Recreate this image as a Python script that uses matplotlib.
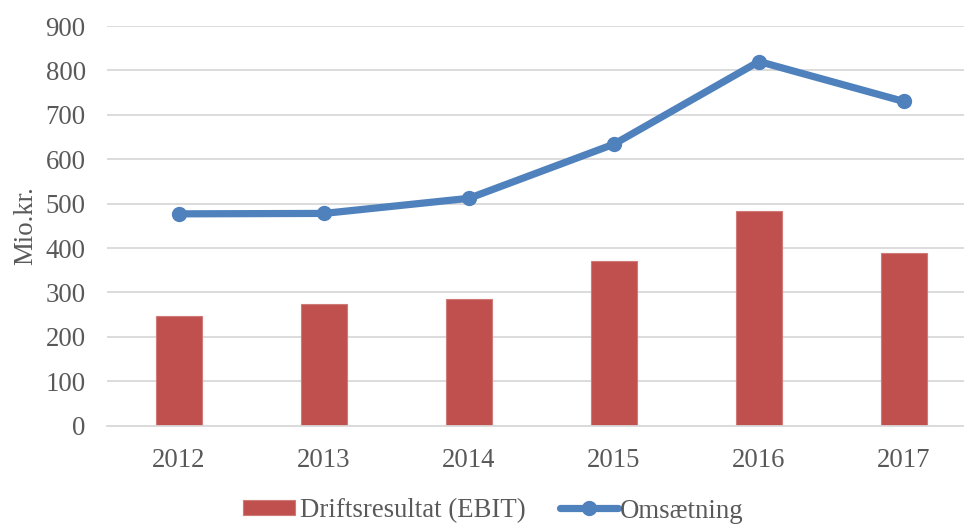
import matplotlib
matplotlib.use("Agg")
import matplotlib.pyplot as plt
import numpy as np

years = ["2012", "2013", "2014", "2015", "2016", "2017"]
ebit = [248, 274, 285, 370, 484, 389]
omsaetning = [477, 478, 512, 634, 820, 730]
yticks = [0, 100, 200, 300, 400, 500, 600, 700, 800, 900]

plt.rcParams['font.family'] = ['Liberation Serif', 'DejaVu Serif']
txt = '#595959'
fs = 19.3
fpx = fs * 100 / 72

fig = plt.figure(figsize=(9.64, 5.25), dpi=100)
W, H = 964, 525
ax = fig.add_axes([106.5 / W, 99.3 / H, (964 - 106.5) / W, (425.7 - 26) / H])

x = np.arange(len(years))
bars = ax.bar(x, ebit, width=0.315, color='#C0504D', edgecolor='#D07A78', linewidth=0.8,
              label='Driftsresultat (EBIT)', zorder=2)
line, = ax.plot(x, omsaetning, color='#4F81BD', linewidth=5.2, marker='o', markersize=10,
                label='Omsætning', zorder=3, solid_capstyle='round')

ax.set_xlim(-0.5, 5.5 - 12.5 / 145)
ax.set_ylim(0, 900)
ax.set_yticks(yticks)
ax.set_xticks(x)
ax.set_xticklabels(years)
ax.yaxis.grid(True, color='#D9D9D9', linewidth=1.3, zorder=0)
ax.set_axisbelow(True)
for s in ['top', 'right', 'left']:
    ax.spines[s].set_visible(False)
ax.spines['bottom'].set_color('#D9D9D9')
ax.spines['bottom'].set_linewidth(1.3)
ax.tick_params(axis='both', length=0, labelsize=fs, colors=txt)
ax.tick_params(axis='y', pad=15)
ax.tick_params(axis='x', pad=16)
ax.set_ylabel('Mio.kr.', fontsize=fs, color=txt, labelpad=5)

leg1 = fig.legend([bars], ['Driftsresultat (EBIT)'], loc='center left',
                  bbox_to_anchor=(243 / W, 1 - 511 / H), frameon=False, fontsize=fs,
                  labelcolor=txt, handlelength=52 / fpx, handleheight=13 / fpx,
                  handletextpad=5 / fpx, borderpad=0, borderaxespad=0)
leg2 = fig.legend([line], ['Omsætning'], loc='center left',
                  bbox_to_anchor=(560 / W, 1 - 511 / H), frameon=False, fontsize=fs,
                  labelcolor=txt, handlelength=58 / fpx, handletextpad=2 / fpx,
                  borderpad=0, borderaxespad=0)

fig.savefig('out.png', dpi=100)
